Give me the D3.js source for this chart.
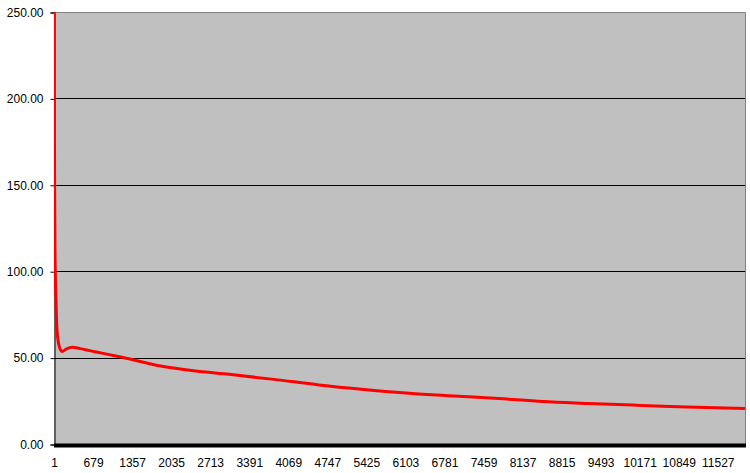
<!DOCTYPE html>
<html><head><meta charset="utf-8">
<script src="https://cdn.jsdelivr.net/npm/d3@7"></script>
<style>body{margin:0;background:#fff}svg{display:block}text{font-family:Arial,"Liberation Sans",sans-serif;font-size:12px;fill:#000}</style>
</head><body><svg id="c" width="750" height="473"></svg>
<script>
const indices = [1, 6, 12, 18, 36, 53, 88, 140, 220, 314, 450, 713, 1182, 1876, 2423, 3040, 3821, 4603, 5384, 6166, 6947, 7722, 8492, 9274, 10055, 10837, 12000];
const values = [258, 200, 150, 112, 83, 66, 57, 53.5, 55.0, 56.0, 55.2, 53.4, 50.2, 45.0, 42.4, 40.3, 37.4, 34.2, 31.6, 29.4, 27.8, 26.3, 24.6, 23.5, 22.5, 21.6, 20.6];
const yTicks = [0, 50, 100, 150, 200, 250];
const xTickLabels = [1, 679, 1357, 2035, 2713, 3391, 4069, 4747, 5425, 6103, 6781, 7459, 8137, 8815, 9493, 10171, 10849, 11527];

const L = 54, R = 745, T = 12, B = 444;
const svg = d3.select("#c");
const x = d3.scaleLinear().domain([1, 12000]).range([L, R]);
const y = d3.scaleLinear().domain([0, 250]).range([B, T]);

svg.append("rect").attr("x", L).attr("y", T).attr("width", R - L).attr("height", B - T).attr("fill", "#c0c0c0");
svg.append("defs").append("clipPath").attr("id", "clip").append("rect")
  .attr("x", L).attr("y", T).attr("width", R - L).attr("height", B - T);

// gridlines
svg.append("g").selectAll("line").data(yTicks.filter(d => d > 0 && d < 250)).join("line")
  .attr("x1", L).attr("x2", R).attr("y1", d => Math.round(y(d)) + 0.5).attr("y2", d => Math.round(y(d)) + 0.5)
  .attr("stroke", "#000").attr("stroke-width", 1);
// top & right border
svg.append("path").attr("d", `M${L},${T + 0.5}H${R + 0.5}V${B}`).attr("fill", "none").attr("stroke", "#808080");

// y axis
const yAxis = d3.axisLeft(y).tickValues(yTicks).tickSize(4).tickPadding(7).tickFormat(d3.format(".2f"));
const gy = svg.append("g").attr("transform", `translate(${L + 0.5},0.5)`).call(yAxis);
gy.selectAll("path,line").attr("stroke", "#000");
gy.selectAll("text").attr("font-size", 12).attr("font-family", "Arial, 'Liberation Sans', sans-serif").attr("fill", "#000");

// line
const line = d3.line().x((d, i) => x(indices[i])).y(d => y(d)).curve(d3.curveMonotoneX);
svg.append("path").datum(values).attr("clip-path", "url(#clip)").attr("d", line)
  .attr("fill", "none").attr("stroke", "#ff0000").attr("stroke-width", 3).attr("stroke-linejoin", "round");

// x axis (dense category ticks form a solid band)
svg.append("rect").attr("x", L).attr("y", 443.5).attr("width", R - L + 1).attr("height", 4).attr("fill", "#000");
const xAxis = d3.axisBottom(x).tickValues(xTickLabels).tickSize(0).tickPadding(11).tickFormat(d3.format("d"));
const gx = svg.append("g").attr("transform", `translate(0,${B + 3})`).call(xAxis);
gx.select(".domain").remove();
gx.selectAll("text").attr("font-size", 12).attr("font-family", "Arial, 'Liberation Sans', sans-serif").attr("fill", "#000");
</script></body></html>
